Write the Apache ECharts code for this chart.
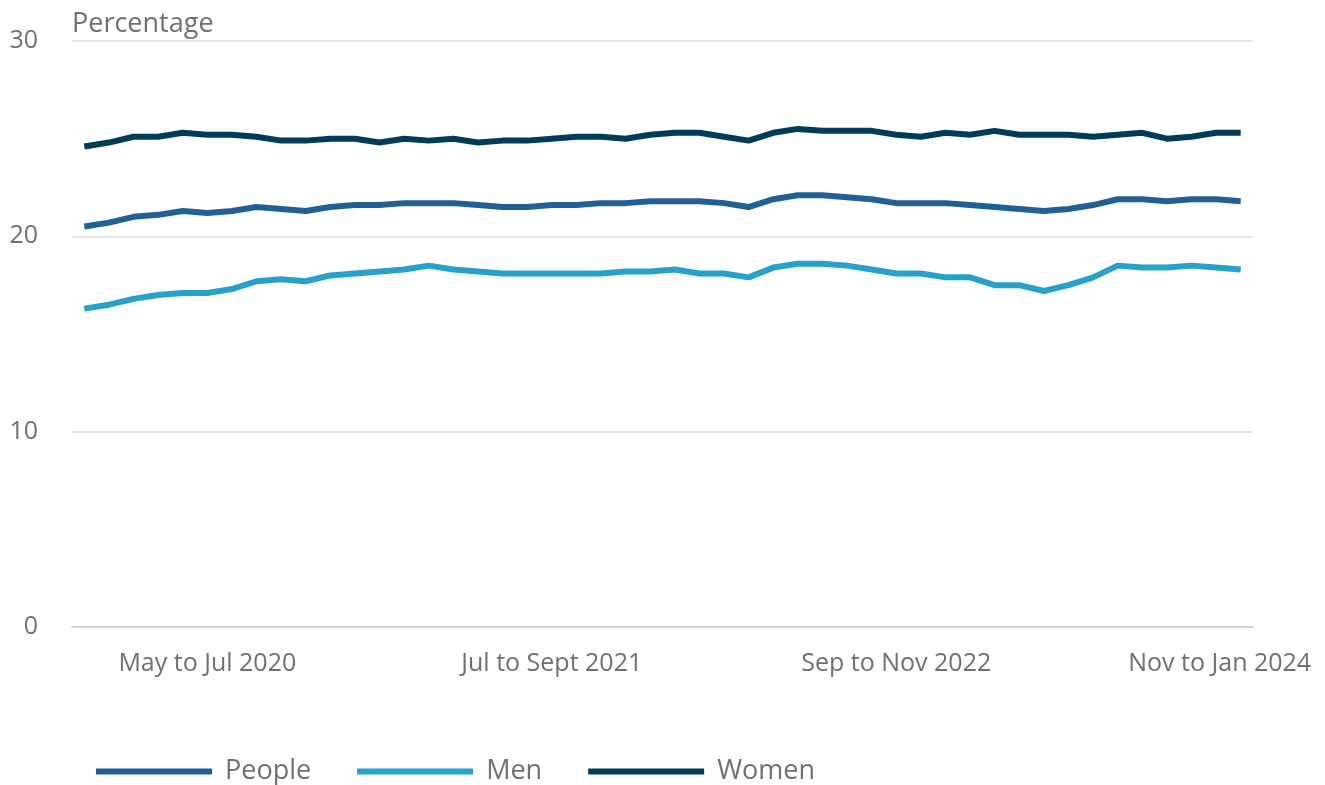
<!DOCTYPE html>
<html lang="en">
  <head>
    <meta charset="UTF-8" />
    <title>Percentage</title>
    <style>
      html, body { margin: 0; padding: 0; background: #fff; }
      #main { width: 1325px; height: 785px; }
    </style>
  </head>
  <body>
    <div id="main"></div>
    <script src="https://cdn.jsdelivr.net/npm/echarts@6/dist/echarts.min.js"></script>
    <script>
      // rolling 3-month periods, Dec to Feb 2020 .. Nov to Jan 2024
      var periods = [
        'Dec to Feb 2020', 'Jan to Mar 2020', 'Feb to Apr 2020', 'Mar to May 2020', 'Apr to Jun 2020',
        'May to Jul 2020', 'Jun to Aug 2020', 'Jul to Sept 2020', 'Aug to Oct 2020', 'Sep to Nov 2020',
        'Oct to Dec 2020', 'Nov to Jan 2021', 'Dec to Feb 2021', 'Jan to Mar 2021', 'Feb to Apr 2021',
        'Mar to May 2021', 'Apr to Jun 2021', 'May to Jul 2021', 'Jun to Aug 2021', 'Jul to Sept 2021',
        'Aug to Oct 2021', 'Sep to Nov 2021', 'Oct to Dec 2021', 'Nov to Jan 2022', 'Dec to Feb 2022',
        'Jan to Mar 2022', 'Feb to Apr 2022', 'Mar to May 2022', 'Apr to Jun 2022', 'May to Jul 2022',
        'Jun to Aug 2022', 'Jul to Sept 2022', 'Aug to Oct 2022', 'Sep to Nov 2022', 'Oct to Dec 2022',
        'Nov to Jan 2023', 'Dec to Feb 2023', 'Jan to Mar 2023', 'Feb to Apr 2023', 'Mar to May 2023',
        'Apr to Jun 2023', 'May to Jul 2023', 'Jun to Aug 2023', 'Jul to Sept 2023', 'Aug to Oct 2023',
        'Sep to Nov 2023', 'Oct to Dec 2023', 'Nov to Jan 2024'
      ];

      var people = [
        20.5, 20.7, 21.0, 21.1, 21.3, 21.2, 21.3, 21.5, 21.4, 21.3,
        21.5, 21.6, 21.6, 21.7, 21.7, 21.7, 21.6, 21.5, 21.5, 21.6,
        21.6, 21.7, 21.7, 21.8, 21.8, 21.8, 21.7, 21.5, 21.9, 22.1,
        22.1, 22.0, 21.9, 21.7, 21.7, 21.7, 21.6, 21.5, 21.4, 21.3,
        21.4, 21.6, 21.9, 21.9, 21.8, 21.9, 21.9, 21.8
      ];
      var men = [
        16.3, 16.5, 16.8, 17.0, 17.1, 17.1, 17.3, 17.7, 17.8, 17.7,
        18.0, 18.1, 18.2, 18.3, 18.5, 18.3, 18.2, 18.1, 18.1, 18.1,
        18.1, 18.1, 18.2, 18.2, 18.3, 18.1, 18.1, 17.9, 18.4, 18.6,
        18.6, 18.5, 18.3, 18.1, 18.1, 17.9, 17.9, 17.5, 17.5, 17.2,
        17.5, 17.9, 18.5, 18.4, 18.4, 18.5, 18.4, 18.3
      ];
      var women = [
        24.6, 24.8, 25.1, 25.1, 25.3, 25.2, 25.2, 25.1, 24.9, 24.9,
        25.0, 25.0, 24.8, 25.0, 24.9, 25.0, 24.8, 24.9, 24.9, 25.0,
        25.1, 25.1, 25.0, 25.2, 25.3, 25.3, 25.1, 24.9, 25.3, 25.5,
        25.4, 25.4, 25.4, 25.2, 25.1, 25.3, 25.2, 25.4, 25.2, 25.2,
        25.2, 25.1, 25.2, 25.3, 25.0, 25.1, 25.3, 25.3
      ];

      var font = '"Open Sans", sans-serif';
      var grey = '#707070';

      // only every 14th period gets a label and tick, starting at May to Jul 2020
      function showEvery(index) {
        return (index - 5) % 14 === 0;
      }

      function line(name, data, color) {
        return {
          name: name,
          type: 'line',
          data: data,
          symbol: 'none',
          lineStyle: { color: color, width: 6 },
          itemStyle: { color: color }
        };
      }

      var myChart = echarts.init(document.getElementById('main'));
      var option = {
        animation: false,
        textStyle: { fontFamily: font },
        title: {
          text: 'Percentage',
          left: 67,
          top: 6,
          textStyle: { fontFamily: font, fontSize: 27, fontWeight: 'normal', color: grey }
        },
        grid: { left: 72, right: 72, top: 41, bottom: 158, outerBoundsMode: 'none' },
        legend: {
          top: 753,
          left: 91,
          icon: 'rect',
          itemWidth: 116,
          itemHeight: 6,
          itemGap: 46,
          textStyle: { fontFamily: font, fontSize: 27, color: grey, padding: [0, 0, 0, 8] },
          data: ['People', 'Men', 'Women']
        },
        xAxis: {
          type: 'category',
          data: periods,
          boundaryGap: true,
          axisLine: { lineStyle: { color: '#cdd6ea', width: 2 } },
          axisTick: {
            alignWithLabel: true,
            interval: showEvery,
            length: 18,
            lineStyle: { color: '#cdd6ea', width: 2 }
          },
          axisLabel: {
            interval: showEvery,
            margin: 24,
            fontFamily: font,
            fontSize: 25,
            color: grey,
            // the last label is pulled left so it stays inside the page
            formatter: function (value, index) {
              return index === periods.length - 1 ? '{last|' + value + '}' : value;
            },
            rich: {
              last: { fontFamily: font, fontSize: 25, color: grey, padding: [0, 42, 0, 0] }
            }
          }
        },
        yAxis: {
          type: 'value',
          min: 0,
          max: 30,
          interval: 10,
          axisLine: { show: false },
          axisTick: { show: false },
          axisLabel: { margin: 34, fontFamily: font, fontSize: 25, color: grey },
          splitLine: { lineStyle: { color: '#e3e3e3', width: 2 } }
        },
        series: [
          line('People', people, '#206095'),
          line('Men', men, '#27a0cc'),
          line('Women', women, '#003c57')
        ]
      };
      myChart.setOption(option);
    </script>
  </body>
</html>
